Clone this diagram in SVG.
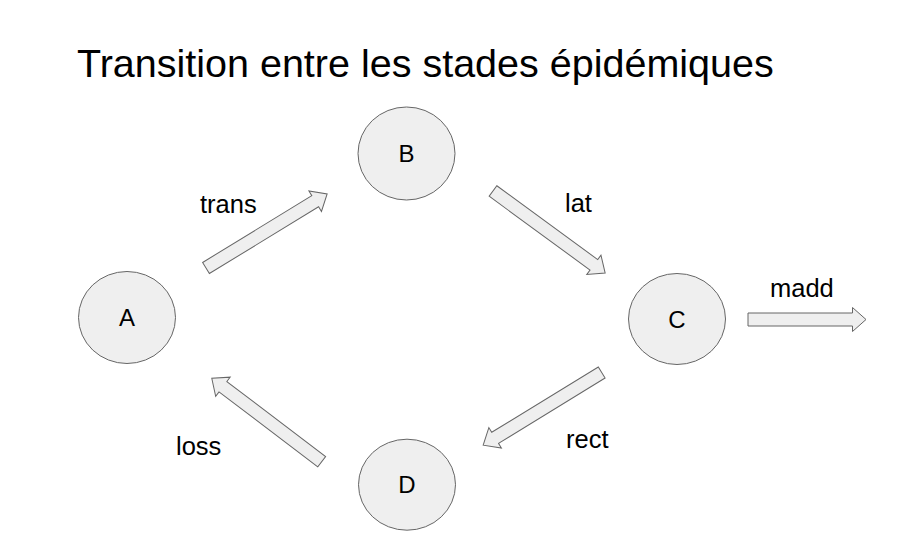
<svg xmlns="http://www.w3.org/2000/svg" width="902" height="557" viewBox="0 0 902 557">
<style>
.node{fill:#efefef;stroke:#666666;stroke-width:1}
.arr{fill:#efefef;stroke:#666666;stroke-width:1;stroke-linejoin:miter}
text{font-family:"Liberation Sans",Arial,sans-serif;fill:#000}
.nl{font-size:24px;text-anchor:middle}
.el{font-size:25.5px}
.title{font-size:39.5px}
</style>
<rect width="902" height="557" fill="#ffffff"/>
<text class="title" x="77" y="77">Transition entre les stades épidémiques</text>
<g id="connectors">
<g id="trans">
<path class="arr" transform="translate(206,268) rotate(-31.45)" d="M0,-6.5 H128 V-12 L142,0 L128,12 V6.5 H0 Z"/>
<text class="el" x="200" y="213">trans</text>
</g>
<g id="lat">
<path class="arr" transform="translate(493,191) rotate(36.2)" d="M0,-6.5 H125 V-12 L139,0 L125,12 V6.5 H0 Z"/>
<text class="el" x="565" y="212">lat</text>
</g>
<g id="madd">
<path class="arr" transform="translate(748,319.5)" d="M0,-6.5 H104.5 V-12 L118,0 L104.5,12 V6.5 H0 Z"/>
<text class="el" x="770" y="297">madd</text>
</g>
<g id="rect">
<path class="arr" transform="translate(601.7,372.5) rotate(148.5)" d="M0,-6.5 H125 V-12 L139,0 L125,12 V6.5 H0 Z"/>
<text class="el" x="566" y="448">rect</text>
</g>
<g id="loss">
<path class="arr" transform="translate(321.7,461.7) rotate(-142.8)" d="M0,-6.5 H124 V-12 L138,0 L124,12 V6.5 H0 Z"/>
<text class="el" x="176" y="455">loss</text>
</g>
</g>
<g id="A"><ellipse class="node" cx="127" cy="317.5" rx="48.5" ry="46"/><text class="nl" x="127" y="326">A</text></g>
<g id="B"><ellipse class="node" cx="406.5" cy="153.5" rx="48.5" ry="46.5"/><text class="nl" x="406.5" y="162">B</text></g>
<g id="C"><ellipse class="node" cx="677" cy="319" rx="48.5" ry="45.5"/><text class="nl" x="677" y="327.5">C</text></g>
<g id="D"><ellipse class="node" cx="407" cy="484.7" rx="48.5" ry="45.5"/><text class="nl" x="407" y="493">D</text></g>
</svg>
